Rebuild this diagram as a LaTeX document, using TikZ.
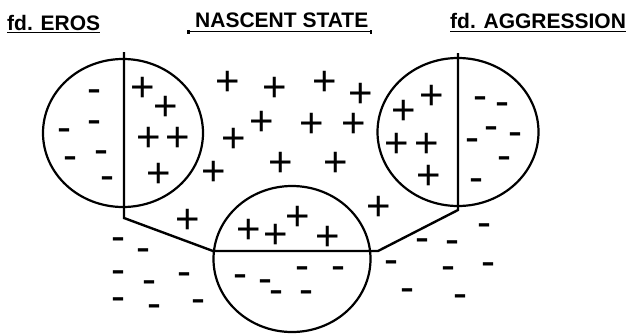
\documentclass[tikz,border=0pt]{standalone}
\usepackage{fontspec}
\setmainfont{Liberation Sans}
\usepackage{tikz}
\usetikzlibrary{positioning,shapes.geometric}
\newcommand{\chargefont}{\fontsize{42}{42}\selectfont}
\newcommand{\titlefont}{\fontsize{21}{21}\selectfont\bfseries}

\begin{document}
\begin{tikzpicture}[x=1pt, y=-1pt,
  cell/.style={draw, ellipse, inner sep=0pt, line width=2.2pt},
  wall/.style={line width=2.4pt, line join=miter},
  ttl/.style={font=\titlefont, inner sep=0pt, anchor=base west},
  uline/.style={line width=1.6pt},
  chargep/.style={font=\chargefont, inner sep=0pt, anchor=base, yshift=-14.9pt},
  chargem/.style={font=\chargefont, inner sep=0pt, anchor=base, yshift=-10.6pt}
]
\path[use as bounding box] (0,0) rectangle (634,333);
% ---------- titles ----------
\node[ttl] (eros) at (7,30) {fd. EROS};
\node[ttl] (nasc) at (195,27) {NASCENT STATE};
\node[ttl] (aggr) at (450,28) {fd. AGGRESSION};
\draw[uline] ([yshift=-2.5pt]eros.base west) -- ([yshift=-2.5pt]eros.base east);
\draw[uline] ([xshift=-7pt,yshift=-4.5pt]nasc.base west) -- ([xshift=3pt,yshift=-4.5pt]nasc.base east);
\fill ([xshift=-8.5pt,yshift=-2.5pt]nasc.base west) rectangle ([xshift=-5.5pt,yshift=-6.5pt]nasc.base west);
\fill ([xshift=1.5pt,yshift=-2.5pt]nasc.base east) rectangle ([xshift=4pt,yshift=-6.5pt]nasc.base east);
\draw[uline] ([yshift=-3.5pt]aggr.base west) -- ([yshift=-3.5pt]aggr.base east);
% ---------- the three cells ----------
\node[cell, minimum width=160pt, minimum height=148pt] (celle) at (123,133) {};
\node[cell, minimum width=161pt, minimum height=148pt] (cella) at (458,132) {};
\node[cell, minimum width=157pt, minimum height=146pt] (celln) at (292,259) {};
% ---------- dividing walls ----------
\coordinate (etop) at (124,52);
\coordinate (efoot) at (124,218);
\coordinate (nleft) at (213,251);
\coordinate (nright) at (378,251);
\coordinate (afoot) at (458,210);
\coordinate (atop) at (458,53);
\draw[wall] (etop) -- (efoot) -- (nleft) -- (nright) -- (afoot) -- (atop);
% ---------- positive charges ----------
\foreach \p in {(143,87),(166,106),(149,137),(178,137),(159,173),
  (228,81),(275,87),(325,81),(361,93),(262,121),(312,123),(354,123),
  (234,138),(281,162),(336,162),(214,171),(188,219),(379,206),
  (432,95),(404,110),(397,143),(427,143),(429,175),
  (249,229),(276,234),(298,216),(328,236)}
  \node[chargep] at \p {+};
% ---------- negative charges ----------
\foreach \m in {(94,92),(94,123),(64,131),(70,159),(101,153),(107,179),
  (118,240),(143,251),(118,273),(149,283),(184,275),(118,300),(154,307),(198,302),
  (240,277),(265,282),(276,293),(302,269),(338,269),(306,293),
  (391,263),(422,241),(452,243),(484,226),(448,269),(488,265),(407,291),(460,297),
  (480,99),(502,105),(491,129),(515,135),(472,141),(504,159),(476,181)}
  \node[chargem] at \m {-};
\end{tikzpicture}
\end{document}
